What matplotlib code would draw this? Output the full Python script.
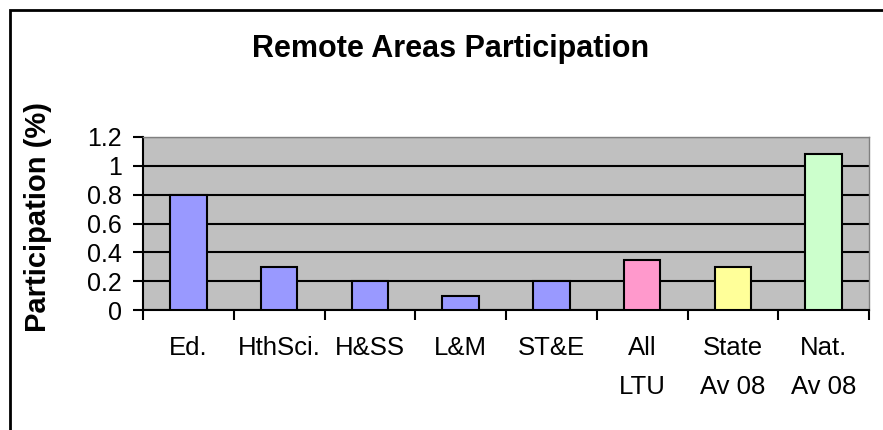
import matplotlib.pyplot as plt
import numpy as np
from matplotlib.patches import Rectangle

plt.rcParams['font.family'] = ['Liberation Sans', 'DejaVu Sans']

categories = ["Ed.", "HthSci.", "H&SS", "L&M", "ST&E", "All\nLTU", "State\nAv 08", "Nat.\nAv 08"]
values = [0.8, 0.3, 0.2, 0.1, 0.2, 0.35, 0.3, 1.08]
colors = ["#9999FF"] * 5 + ["#FF99CC", "#FFFF99", "#CCFFCC"]
yticks = [0, 0.2, 0.4, 0.6, 0.8, 1, 1.2]
ytick_labels = ["0", "0.2", "0.4", "0.6", "0.8", "1", "1.2"]

fig = plt.figure(figsize=(8.83, 4.3), dpi=100)
ax = fig.add_axes([143 / 883, 1 - 310 / 430, (869 - 143) / 883, (310 - 137) / 430])

x = np.arange(len(categories))
ax.set_facecolor("#C0C0C0")
ax.set_axisbelow(True)
ax.grid(axis="y", color="black", lw=1.5)
ax.bar(x, values, width=0.4, color=colors, edgecolor="black", lw=1.5, zorder=3)

ax.set_xlim(-0.5, len(categories) - 0.5)
ax.set_ylim(0, 1.2)
ax.set_yticks(yticks)
ax.set_yticklabels(ytick_labels, fontsize=18)
ax.set_xticks(x)
ax.set_xticklabels(categories, fontsize=18.5, linespacing=1.75, va="top")
ax.set_xticks(np.arange(len(categories) + 1) - 0.5, minor=True)
ax.tick_params(axis="x", which="major", length=0, pad=19)
ax.tick_params(axis="x", which="minor", length=7, width=1.5, direction="out")
ax.tick_params(axis="y", length=7, width=1.5, direction="out", pad=8)

for s in ["top", "right"]:
    ax.spines[s].set_color("#808080")
    ax.spines[s].set_linewidth(1)
for s in ["left", "bottom"]:
    ax.spines[s].set_linewidth(1.5)

fig.text(38 / 883, 1 - 217 / 430, "Participation (%)", fontsize=21, fontweight="bold",
         rotation=90, ha="center", va="center")
fig.text(451 / 883, 1 - 57.5 / 430, "Remote Areas Participation", fontsize=22,
         fontweight="bold", ha="center", va="baseline")

fig.patches.append(Rectangle((10 / 883, -0.1), 1.1, 1.1 - 10 / 430,
                             transform=fig.transFigure, fill=False,
                             edgecolor="black", lw=2))

fig.savefig("out.png", dpi=100)
